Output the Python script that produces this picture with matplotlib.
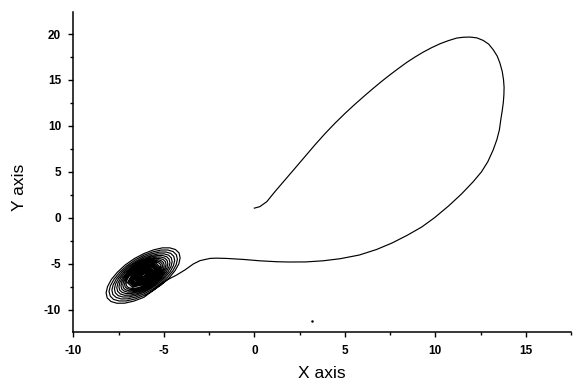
import matplotlib
matplotlib.use('Agg')
import matplotlib.pyplot as plt
from matplotlib.ticker import MultipleLocator

plt.rcParams['font.family'] = ['Liberation Sans', 'DejaVu Sans']
plt.rcParams['axes.unicode_minus'] = False

# big loop
path_x = [0.00, 0.31, 0.69, 1.14, 1.70, 2.25, 2.80, 3.35, 3.91, 4.46, 5.01, 5.56,
          6.12, 6.57, 7.03, 7.50, 7.96, 8.42, 8.88, 9.34, 9.80, 10.26, 10.72, 11.18,
          11.55, 11.92, 12.30, 12.65, 12.95, 13.20, 13.42, 13.57, 13.70, 13.77, 13.80,
          13.79, 13.76, 13.70, 13.62, 13.54, 13.40, 13.20, 12.90, 12.55, 12.08, 11.45,
          10.74, 9.95, 9.25, 8.45, 7.60, 6.75, 5.80, 4.75, 3.79, 2.85, 1.91, 1.24, 0.31,
          -0.61, -1.53, -2.10, -2.45, -3.00, -3.37, -3.83, -4.29, -4.75, -5.15, -5.60]
path_y = [1.05, 1.22, 1.76, 2.85, 4.13, 5.40, 6.67, 7.94, 9.17, 10.30, 11.36, 12.36,
          13.33, 14.09, 14.84, 15.57, 16.25, 16.91, 17.50, 18.04, 18.52, 18.94, 19.28,
          19.56, 19.65, 19.67, 19.58, 19.30, 18.90, 18.29, 17.60, 16.84, 15.90, 15.00,
          14.20, 13.40, 12.60, 11.70, 10.70, 9.57, 8.50, 7.40, 6.10, 5.00, 3.90, 2.60,
          1.30, 0.00, -1.00, -1.90, -2.75, -3.45, -4.05, -4.45, -4.68, -4.80, -4.81,
          -4.78, -4.68, -4.53, -4.42, -4.39, -4.42, -4.66, -5.02, -5.67, -6.22, -6.69,
          -7.22, -7.92]

# spiral around the left fixed point, lap by lap (x, y)
spiral_pts = [
    (-6.10, -8.65), (-6.65, -9.06), (-7.16, -9.29), (-7.59, -9.30), (-7.92, -9.11), (-8.13, -8.72),
    (-8.19, -8.16), (-8.11, -7.48), (-7.90, -6.71), (-7.56, -5.91), (-7.14, -5.14), (-6.64, -4.45),
    (-6.10, -3.89), (-5.57, -3.49), (-5.08, -3.27), (-4.67, -3.27), (-4.36, -3.45), (-4.16, -3.82),
    (-4.10, -4.36), (-4.17, -5.01), (-4.38, -5.75), (-4.70, -6.52), (-5.11, -7.25), (-5.59, -7.91),

    (-6.10, -8.46), (-6.61, -8.84), (-7.08, -9.05), (-7.47, -9.05), (-7.78, -8.88), (-7.96, -8.52),
    (-8.03, -8.01), (-7.95, -7.38), (-7.75, -6.67), (-7.44, -5.93), (-7.05, -5.23), (-6.59, -4.59),
    (-6.10, -4.07), (-5.61, -3.71), (-5.16, -3.51), (-4.79, -3.50), (-4.49, -3.67), (-4.31, -4.01),
    (-4.25, -4.51), (-4.32, -5.11), (-4.51, -5.79), (-4.81, -6.49), (-5.19, -7.17), (-5.63, -7.78),

    (-6.10, -8.28), (-6.57, -8.63), (-7.00, -8.82), (-7.36, -8.83), (-7.64, -8.66), (-7.82, -8.34),
    (-7.87, -7.86), (-7.80, -7.29), (-7.62, -6.64), (-7.34, -5.96), (-6.98, -5.31), (-6.55, -4.73),
    (-6.10, -4.24), (-5.65, -3.91), (-5.24, -3.73), (-4.89, -3.72), (-4.62, -3.87), (-4.45, -4.19),
    (-4.40, -4.65), (-4.47, -5.20), (-4.64, -5.82), (-4.92, -6.47), (-5.26, -7.09), (-5.67, -7.65),

    (-6.10, -8.11), (-6.53, -8.43), (-6.93, -8.61), (-7.26, -8.62), (-7.52, -8.47), (-7.68, -8.17),
    (-7.73, -7.73), (-7.67, -7.20), (-7.50, -6.60), (-7.24, -5.98), (-6.91, -5.38), (-6.52, -4.85),
    (-6.10, -4.40), (-5.69, -4.10), (-5.30, -3.93), (-4.99, -3.92), (-4.74, -4.06), (-4.59, -4.35),
    (-4.54, -4.77), (-4.60, -5.28), (-4.76, -5.85), (-5.01, -6.45), (-5.33, -7.02), (-5.70, -7.54),

    (-6.10, -7.96), (-6.50, -8.26), (-6.86, -8.42), (-7.17, -8.43), (-7.40, -8.29), (-7.55, -8.01),
    (-7.60, -7.61), (-7.54, -7.12), (-7.39, -6.57), (-7.15, -6.00), (-6.84, -5.45), (-6.48, -4.95),
    (-6.10, -4.55), (-5.72, -4.26), (-5.37, -4.11), (-5.08, -4.10), (-4.84, -4.24), (-4.71, -4.50),
    (-4.66, -4.89), (-4.72, -5.36), (-4.87, -5.88), (-5.10, -6.43), (-5.39, -6.96), (-5.73, -7.43),

    (-6.10, -7.82), (-6.47, -8.09), (-6.80, -8.24), (-7.08, -8.25), (-7.30, -8.12), (-7.44, -7.87),
    (-7.48, -7.50), (-7.43, -7.05), (-7.28, -6.54), (-7.06, -6.02), (-6.78, -5.51), (-6.45, -5.06),
    (-6.10, -4.68), (-5.75, -4.42), (-5.43, -4.28), (-5.16, -4.27), (-4.95, -4.39), (-4.82, -4.64),
    (-4.78, -5.00), (-4.83, -5.43), (-4.97, -5.91), (-5.18, -6.42), (-5.45, -6.90), (-5.76, -7.34),

    (-6.10, -7.70), (-6.44, -7.95), (-6.75, -8.08), (-7.00, -8.09), (-7.20, -7.97), (-7.33, -7.74),
    (-7.37, -7.40), (-7.32, -6.98), (-7.19, -6.52), (-6.99, -6.03), (-6.73, -5.57), (-6.43, -5.15),
    (-6.10, -4.80), (-5.78, -4.56), (-5.48, -4.43), (-5.23, -4.43), (-5.04, -4.54), (-4.92, -4.76),
    (-4.88, -5.09), (-4.93, -5.49), (-5.06, -5.93), (-5.25, -6.40), (-5.50, -6.85), (-5.79, -7.25),

    (-6.10, -7.58), (-6.41, -7.81), (-6.69, -7.93), (-6.93, -7.94), (-7.12, -7.83), (-7.23, -7.62),
    (-7.27, -7.30), (-7.22, -6.92), (-7.10, -6.49), (-6.91, -6.05), (-6.68, -5.62), (-6.40, -5.23),
    (-6.10, -4.92), (-5.80, -4.70), (-5.53, -4.58), (-5.30, -4.57), (-5.13, -4.68), (-5.02, -4.88),
    (-4.98, -5.18), (-5.02, -5.55), (-5.14, -5.96), (-5.32, -6.39), (-5.55, -6.80), (-5.81, -7.17),

    (-6.10, -7.47), (-6.39, -7.68), (-6.65, -7.80), (-6.87, -7.80), (-7.03, -7.70), (-7.14, -7.51),
    (-7.17, -7.22), (-7.13, -6.87), (-7.02, -6.47), (-6.85, -6.06), (-6.63, -5.67), (-6.38, -5.31),
    (-6.10, -5.02), (-5.83, -4.82), (-5.58, -4.71), (-5.37, -4.70), (-5.20, -4.80), (-5.10, -4.99),
    (-5.07, -5.27), (-5.11, -5.60), (-5.22, -5.98), (-5.38, -6.37), (-5.59, -6.75), (-5.84, -7.09),

    (-6.10, -7.37), (-6.36, -7.57), (-6.60, -7.67), (-6.80, -7.68), (-6.96, -7.59), (-7.06, -7.40),
    (-7.09, -7.14), (-7.05, -6.82), (-6.95, -6.45), (-6.79, -6.07), (-6.59, -5.71), (-6.35, -5.39),
    (-6.10, -5.12), (-5.85, -4.93), (-5.62, -4.83), (-5.42, -4.82), (-5.28, -4.91), (-5.18, -5.09),
    (-5.15, -5.34), (-5.19, -5.65), (-5.29, -6.00), (-5.44, -6.36), (-5.63, -6.71), (-5.86, -7.03),

    # dense core
    (-6.10, -7.26), (-6.74, -7.55), (-7.01, -7.07), (-6.74, -6.08), (-6.10, -5.18), (-5.46, -4.89), (-5.19, -5.38), (-5.46, -6.36),
    (-6.10, -7.18), (-6.69, -7.44), (-6.94, -7.00), (-6.69, -6.09), (-6.10, -5.26), (-5.51, -5.00), (-5.26, -5.44), (-5.51, -6.35),
    (-6.10, -7.10), (-6.65, -7.35), (-6.87, -6.94), (-6.65, -6.10), (-6.10, -5.34), (-5.56, -5.09), (-5.33, -5.50), (-5.56, -6.34),
    (-6.10, -7.03), (-6.60, -7.26), (-6.81, -6.88), (-6.60, -6.11), (-6.10, -5.41), (-5.60, -5.18), (-5.39, -5.56), (-5.60, -6.33),
    (-6.10, -6.97), (-6.56, -7.17), (-6.75, -6.83), (-6.56, -6.12), (-6.10, -5.47), (-5.64, -5.27), (-5.45, -5.61), (-5.64, -6.32),
    (-6.10, -6.90), (-6.52, -7.10), (-6.70, -6.78), (-6.52, -6.13), (-6.10, -5.54), (-5.68, -5.34), (-5.50, -5.66), (-5.68, -6.31),
    (-6.10, -6.82), (-6.47, -6.99), (-6.63, -6.71), (-6.47, -6.14), (-6.10, -5.62), (-5.73, -5.45), (-5.57, -5.73), (-5.73, -6.30),
    (-6.10, -6.75), (-6.43, -6.90), (-6.57, -6.65), (-6.43, -6.15), (-6.10, -5.69), (-5.77, -5.54), (-5.63, -5.79), (-5.77, -6.29),
    (-6.10, -6.69), (-6.39, -6.82), (-6.51, -6.60), (-6.39, -6.16), (-6.10, -5.75), (-5.81, -5.62), (-5.69, -5.84), (-5.81, -6.28),
    (-6.10, -6.63), (-6.35, -6.75), (-6.46, -6.55), (-6.35, -6.17), (-6.10, -5.81), (-5.85, -5.70), (-5.74, -5.89), (-5.85, -6.27),
    (-6.10, -6.58), (-6.32, -6.68), (-6.42, -6.51), (-6.32, -6.17), (-6.10, -5.86), (-5.88, -5.76), (-5.78, -5.93), (-5.88, -6.27),
    (-6.10, -6.54), (-6.30, -6.63), (-6.38, -6.48), (-6.30, -6.18), (-6.10, -5.90), (-5.90, -5.81), (-5.82, -5.96), (-5.90, -6.26),
    (-6.10, -6.50), (-6.27, -6.58), (-6.35, -6.45), (-6.27, -6.18), (-6.10, -5.94), (-5.93, -5.86), (-5.85, -5.99), (-5.93, -6.26),
    (-6.10, -6.47), (-6.25, -6.54), (-6.32, -6.42), (-6.25, -6.19), (-6.10, -5.97), (-5.95, -5.90), (-5.88, -6.02), (-5.95, -6.25),
    (-6.10, -6.43), (-6.23, -6.49), (-6.29, -6.39), (-6.23, -6.19), (-6.10, -6.01), (-5.97, -5.95), (-5.91, -6.05), (-5.97, -6.25),
    (-6.10, -6.40), (-6.21, -6.45), (-6.26, -6.36), (-6.21, -6.20), (-6.10, -6.04), (-5.99, -5.99), (-5.94, -6.08), (-5.99, -6.24),
    (-6.10, -6.36), (-6.19, -6.40), (-6.22, -6.34), (-6.19, -6.20), (-6.10, -6.08), (-6.01, -6.04), (-5.98, -6.11), (-6.01, -6.24),
    (-6.10, -6.22),
]

# small speck in the scan
speck_x = [3.2]
speck_y = [-11.25]

spiral_x = [p[0] for p in spiral_pts]
spiral_y = [p[1] for p in spiral_pts]

fig = plt.figure(figsize=(5.73, 3.85), dpi=100)
ax = fig.add_axes([0.128, 0.1364, 0.8686, 0.8325])

ax.plot(path_x + spiral_x, path_y + spiral_y, color='black', lw=0.85)
ax.plot(speck_x, speck_y, 'o', color='black', ms=0.8)

ax.set_xlim(-10, 17.5)
ax.set_ylim(-12.48, 22.4)
ax.spines['top'].set_visible(False)
ax.spines['right'].set_visible(False)
ax.spines['left'].set_linewidth(1.1)
ax.spines['bottom'].set_linewidth(1.1)

ax.xaxis.set_major_locator(MultipleLocator(5))
ax.xaxis.set_minor_locator(MultipleLocator(2.5))
ax.yaxis.set_major_locator(MultipleLocator(5))
ax.yaxis.set_minor_locator(MultipleLocator(2.5))
ax.tick_params(which='major', direction='out', length=3.8, width=1.0, pad=5,
               labelsize=8.5)
ax.tick_params(which='minor', direction='out', length=2.3, width=1.0)
for lab in ax.get_xticklabels() + ax.get_yticklabels():
    lab.set_fontweight('bold')

ax.set_xlabel('X axis', fontsize=12.5)
ax.set_ylabel('Y axis', fontsize=12.5)
ax.xaxis.set_label_coords(0.5, -0.105)
ax.yaxis.set_label_coords(-0.093, 0.454)

fig.savefig('out.png', dpi=100)
